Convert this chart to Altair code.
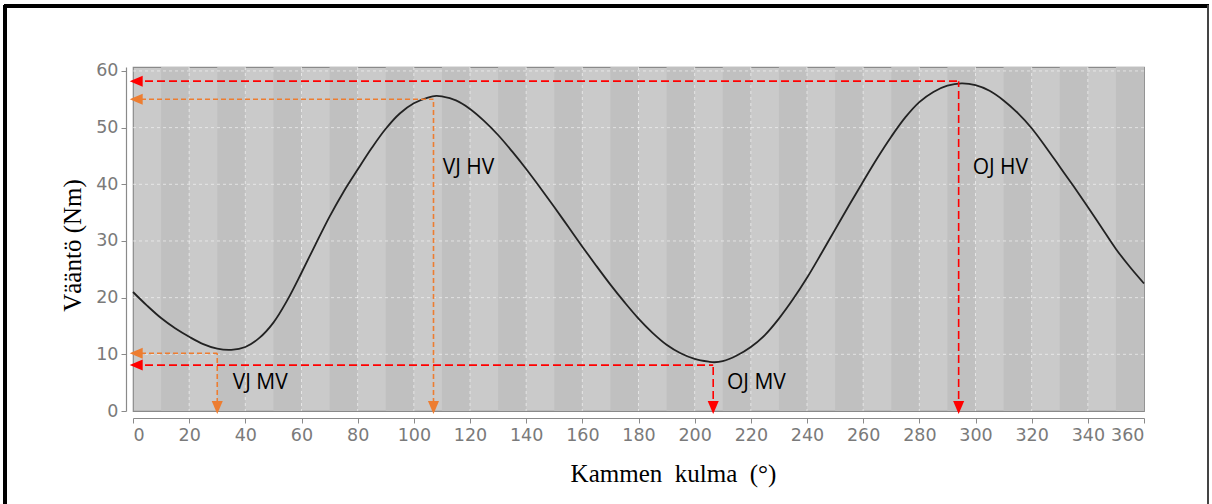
import altair as alt
import pandas as pd

# ---- data ----
angles = [0, 5, 10, 15, 20, 25, 30, 35, 40, 45, 50, 55, 60, 65, 70, 75, 80, 85, 90, 95,
          100, 105, 108, 110, 115, 120, 125, 130, 135, 140, 145, 150, 155, 160, 165, 170,
          175, 180, 185, 190, 195, 200, 205, 207, 210, 215, 220, 225, 230, 235, 240, 245,
          250, 255, 260, 265, 270, 275, 280, 285, 290, 295, 300, 305, 310, 315, 320, 325,
          330, 335, 340, 345, 350, 355, 360]
torque = [21.0, 18.6, 16.4, 14.6, 13.1, 11.8, 11.0, 10.8, 11.3, 12.9, 15.6, 19.6, 24.4,
          29.4, 34.3, 38.7, 42.6, 46.4, 49.8, 52.5, 54.3, 55.3, 55.6, 55.5, 54.8, 53.3,
          51.2, 48.7, 45.8, 42.7, 39.4, 36.0, 32.5, 29.0, 25.6, 22.3, 19.2, 16.3, 13.8,
          11.7, 10.2, 9.2, 8.7, 8.6, 8.8, 9.8, 11.3, 13.4, 16.3, 19.7, 23.5, 27.7, 32.0,
          36.3, 40.5, 44.6, 48.4, 51.8, 54.5, 56.3, 57.4, 57.8, 57.5, 56.5, 54.8, 52.6,
          49.9, 46.6, 43.1, 39.6, 36.0, 32.3, 28.6, 25.4, 22.5]

# annotations: label, angle of marker, torque of marker, label position
ann_labels = ["VJ MV", "VJ HV", "OJ MV", "OJ HV"]
ann_x = [30.0, 107.0, 206.6, 294.0]
ann_y = [10.2, 55.0, 8.1, 58.2]
ann_colors = ["#ED7D31", "#ED7D31", "#FF0000", "#FF0000"]
ann_label_x = [35.5, 110.3, 211.5, 299.0]
ann_label_y = [4.9, 42.9, 4.9, 42.9]

x_ticks = [0, 20, 40, 60, 80, 100, 120, 140, 160, 180, 200, 220, 240, 260, 280, 300, 320, 340, 360]
y_ticks = [0, 10, 20, 30, 40, 50, 60]
x_grid = [20, 40, 60, 80, 100, 120, 140, 160, 180, 200, 220, 240, 260, 280, 300, 320, 340]
y_grid = [10, 20, 30, 40, 50, 60]
dark_band_starts = [10, 30, 50, 70, 90, 110, 130, 150, 170, 190, 210, 230, 250, 270, 290, 310, 330, 350]
band_width = 10

X_TITLE = "Kammen\u00a0\u00a0kulma\u00a0\u00a0(°)"
Y_TITLE = "Vääntö (Nm)"

curve = pd.DataFrame({"kulma": angles, "vaanto": torque})
ann = pd.DataFrame({"label": ann_labels, "x": ann_x, "y": ann_y, "color": ann_colors,
                    "lx": ann_label_x, "ly": ann_label_y})
ann["x0"] = 0
ann["y0"] = 0
bands = pd.DataFrame({"start": dark_band_starts})
bands["end"] = bands["start"] + band_width
gx = pd.DataFrame({"g": x_grid})
gy = pd.DataFrame({"g": y_grid})

xscale = alt.Scale(domain=[0, 360], nice=False, zero=False)
yscale = alt.Scale(domain=[0, 60.7], nice=False)

x_axis = alt.Axis(values=x_ticks, title=X_TITLE, grid=False, offset=7,
                  titleX=540, titleY=63, titleBaseline="alphabetic", titleAlign="center")
y_axis = alt.Axis(values=y_ticks, title=Y_TITLE, grid=False, offset=7,
                  titleX=-46, titleY=178, titleBaseline="alphabetic", titleAlign="center",
                  titleAngle=-90)

band_layer = alt.Chart(bands).mark_rect(color="#c0c0c0").encode(
    x=alt.X("start:Q", scale=xscale, axis=x_axis),
    x2="end:Q",
    y=alt.value(0),
    y2=alt.value(344),
)

grid_x = alt.Chart(gx).mark_rule(color="#ffffff", opacity=0.55, strokeDash=[3, 3], strokeWidth=1).encode(
    x=alt.X("g:Q", scale=xscale)
)
grid_y = alt.Chart(gy).mark_rule(color="#ffffff", opacity=0.55, strokeDash=[3, 3], strokeWidth=1).encode(
    y=alt.Y("g:Q", scale=yscale, axis=y_axis)
)

line = alt.Chart(curve).mark_line(color="#222222", strokeWidth=1.8, interpolate="catmull-rom").encode(
    x=alt.X("kulma:Q", scale=xscale),
    y=alt.Y("vaanto:Q", scale=yscale),
)

color_scale = alt.Scale(domain=["#ED7D31", "#FF0000"], range=["#ED7D31", "#FF0000"])

h_orange = alt.Chart(ann).transform_filter(alt.datum.color == "#ED7D31").mark_rule(
    strokeDash=[5, 3], strokeWidth=1.6, color="#ED7D31").encode(
    x="x0:Q", x2="x:Q", y="y:Q")
v_orange = alt.Chart(ann).transform_filter(alt.datum.color == "#ED7D31").mark_rule(
    strokeDash=[5, 3], strokeWidth=1.6, color="#ED7D31").encode(
    x="x:Q", y="y0:Q", y2="y:Q")
h_red = alt.Chart(ann).transform_filter(alt.datum.color == "#FF0000").mark_rule(
    strokeDash=[8, 4], strokeWidth=1.6, color="#FF0000").encode(
    x="x0:Q", x2="x:Q", y="y:Q")
v_red = alt.Chart(ann).transform_filter(alt.datum.color == "#FF0000").mark_rule(
    strokeDash=[8, 4], strokeWidth=1.6, color="#FF0000").encode(
    x="x:Q", y="y0:Q", y2="y:Q")

arrow_left = alt.Chart(ann).mark_point(
    shape="M -1 0 L 1 -0.85 L 1 0.85 Z", size=169, filled=True, opacity=1, xOffset=3.2).encode(
    x="x0:Q", y="y:Q",
    color=alt.Color("color:N", scale=color_scale, legend=None))
arrow_down = alt.Chart(ann).mark_point(
    shape="M 0 1 L -0.85 -1 L 0.85 -1 Z", size=169, filled=True, opacity=1, yOffset=-3.5).encode(
    x="x:Q", y="y0:Q",
    color=alt.Color("color:N", scale=color_scale, legend=None))

labels = alt.Chart(ann).mark_text(
    align="left", baseline="middle", font="Open Sans", fontSize=21, color="#000000").encode(
    x="lx:Q", y="ly:Q", text="label:N")

# decorative outer frame of the figure
frame_left = alt.Chart(curve).mark_rule(color="#000000", strokeWidth=3).encode(
    x=alt.value(-128), y=alt.value(-62), y2=alt.value(437))
frame_top = alt.Chart(curve).mark_rule(color="#000000", strokeWidth=3).encode(
    x=alt.value(-129), x2=alt.value(1076), y=alt.value(-61))
frame_right = alt.Chart(curve).mark_rule(color="#444444", strokeWidth=1.5).encode(
    x=alt.value(1075), y=alt.value(-62), y2=alt.value(437))

chart = alt.layer(
    band_layer, grid_x, grid_y, line,
    h_orange, v_orange, h_red, v_red, arrow_left, arrow_down, labels,
    frame_left, frame_top, frame_right,
).resolve_scale(color="shared").properties(
    width=1011, height=344,
    padding={"left": 133, "top": 67, "right": 68, "bottom": 93},
    autosize=alt.AutoSizeParams(type="none"),
    background="#ffffff",
).configure_view(
    fill="#cacaca", stroke="#8a8a8a", strokeWidth=1.2,
).configure_axis(
    labelFont="DejaVu Sans", labelFontSize=17.5, labelColor="#7a7a7a", labelPadding=3,
    tickColor="#8a8a8a", tickSize=5, domainColor="#8a8a8a", domainWidth=1.2,
    titleFont="Liberation Serif", titleFontSize=25, titleColor="#000000", titleFontWeight="normal",
)

chart.save("out.html", embed_options={"renderer": "svg", "actions": False})
